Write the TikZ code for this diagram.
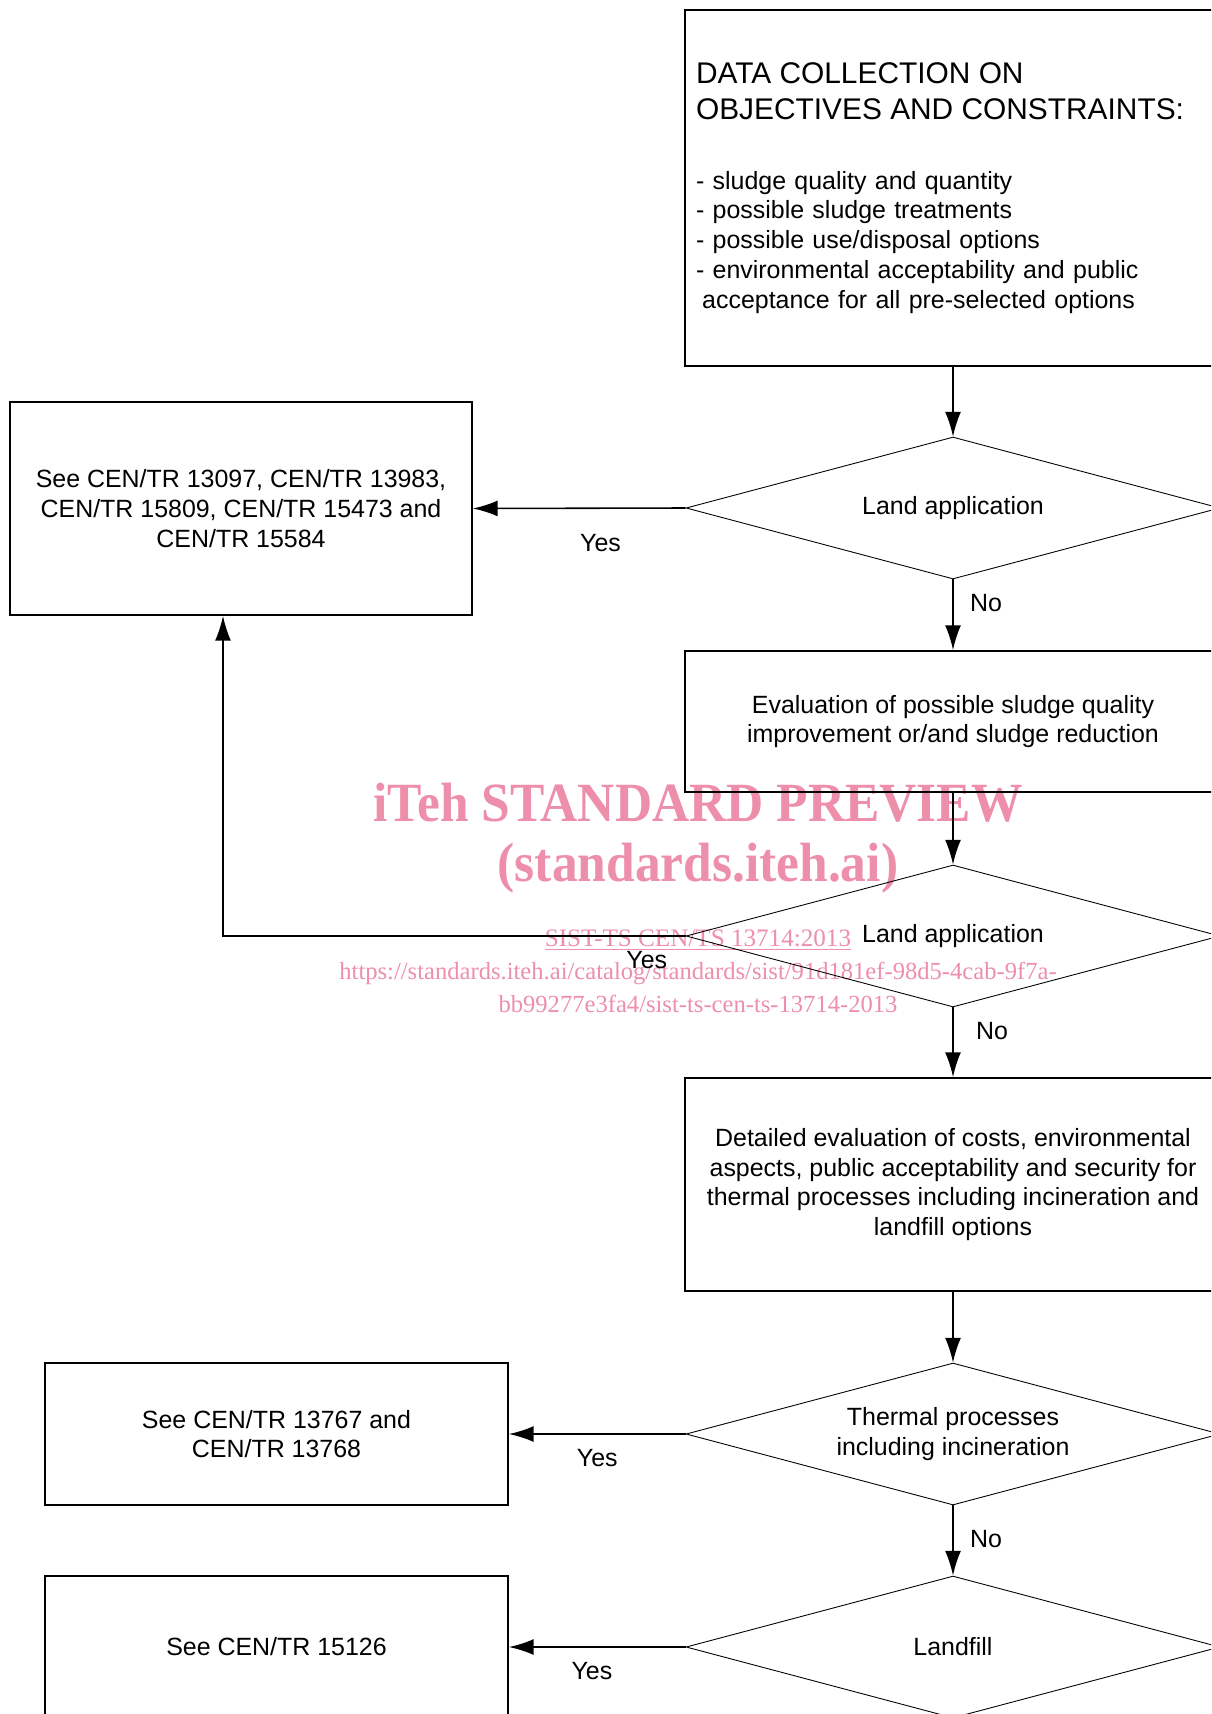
\documentclass[tikz,border=0pt]{standalone}
\usepackage{fontspec}
\setmainfont{Liberation Sans}
\newfontfamily\wmfont{Liberation Serif}
\usetikzlibrary{shapes.geometric,arrows.meta,positioning}
\definecolor{wmpink}{RGB}{237,142,170}
\newcommand\normtext{\fontsize{14.2}{17}\selectfont}
\newcommand\bigtext{\fontsize{17}{20.5}\selectfont}

\begin{document}
\begin{tikzpicture}[x=0.02cm,y=-0.02cm,
	>={Latex[length=14pt,width=9pt]},
	box/.style={draw, rectangle, line width=1.1pt, inner sep=0pt, align=center, font=\normtext},
	decision/.style={draw, diamond, line width=0.5pt, inner sep=0pt, aspect=3.76,
		minimum width=10.68cm, minimum height=2.84cm, align=center, font=\normtext},
	flow/.style={->, line width=0.9pt},
	lbl/.style={font=\normtext, inner sep=0pt},
	wm/.style={text=wmpink, inner sep=0pt, align=center}]
	\useasboundingbox (0,0) rectangle (1211,1714);
	\clip (0,0) rectangle (1211,1714);% the page cuts the right column
	
	% watermark, under the chart
	\node[wm, font=\wmfont\bfseries\fontsize{31.5}{36}\selectfont] (wmtitle) at (698,803) {\scalebox{0.93}[1]{iTeh STANDARD PREVIEW}};
	\node[wm, font=\wmfont\bfseries\fontsize{31.5}{36}\selectfont] (wmsite) at (698,868) {\scalebox{0.93}[1]{(standards.iteh.ai)}};
	\node[wm, font=\wmfont\fontsize{14.3}{16}\selectfont] (wmref) at (698,940) {\underline{SIST-TS CEN/TS 13714:2013}};
	\node[wm, font=\wmfont\fontsize{14}{16}\selectfont] (wmurl) at (698,973) {https://standards.iteh.ai/catalog/standards/sist/91d181ef-98d5-4cab-9f7a-};
	\node[wm, font=\wmfont\fontsize{14}{16}\selectfont] (wmurlb) at (698,1004) {bb99277e3fa4/sist-ts-cen-ts-13714-2013};
	
	% right column
	\node[box, align=left, minimum width=10.72cm, minimum height=7.12cm, text width=10.28cm] (collect) at (953,188)
		{{\bigtext DATA COLLECTION ON\\OBJECTIVES AND CONSTRAINTS:\par}
		\vspace{22.8pt}
		{\normtext - sludge quality and quantity\\
		- possible sludge treatments\\
		- possible use/disposal options\\
		- environmental acceptability and public\\
		\hspace*{3.5pt}acceptance for all pre-selected options\par}};
	\node[decision] (landA) at (953,508) {Land application};
	\node[box, minimum width=10.72cm, minimum height=2.82cm] (improve) at (953,721.5)
		{Evaluation of possible sludge quality\\improvement or/and sludge reduction};
	\node[decision] (landB) at (953,936) {Land application};
	\node[box, minimum width=10.72cm, minimum height=4.26cm] (detail) at (953,1184.5)
		{Detailed evaluation of costs, environmental\\aspects, public acceptability and security for\\thermal processes including incineration and\\landfill options};
	\node[decision] (thermal) at (953,1434) {Thermal processes\\including incineration};
	\node[decision] (landfill) at (953,1647) {Landfill};
	
	% left column
	\node[box, minimum width=9.24cm, minimum height=4.26cm] (seeland) at (241,508.5)
		{See CEN/TR 13097, CEN/TR 13983,\\CEN/TR 15809, CEN/TR 15473 and\\CEN/TR 15584};
	\node[box, minimum width=9.26cm, minimum height=2.84cm] (seethermal) at (276.5,1434)
		{See CEN/TR 13767 and\\CEN/TR 13768};
	\node[box, minimum width=9.26cm, minimum height=2.84cm] (seelandfill) at (276.5,1647)
		{See CEN/TR 15126};
	
	\coordinate (back) at (223,936);% return line turns up here
	
	\draw[flow] (collect) -- (landA);
	\draw[flow] (landA.west) -- (seeland.east) node[lbl, pos=0.4, yshift=-0.7cm] (yesA) {Yes};
	\draw[flow] (landA) -- (improve) node[lbl, pos=0.33, xshift=0.66cm] (noA) {No};
	\draw[flow] (improve) -- (landB);
	\draw[flow] (landB.west) -- (back) node[lbl, pos=0.084, yshift=-0.48cm] (yesB) {Yes} -- (back |- seeland.south);
	\draw[flow] (landB) -- (detail) node[lbl, pos=0.34, xshift=0.78cm] (noB) {No};
	\draw[flow] (detail) -- (thermal);
	\draw[flow] (thermal.west) -- (seethermal.east) node[lbl, pos=0.5, yshift=-0.48cm] (yesC) {Yes};
	\draw[flow] (thermal) -- (landfill) node[lbl, pos=0.48, xshift=0.66cm] (noC) {No};
	\draw[flow] (landfill.west) -- (seelandfill.east) node[lbl, pos=0.53, yshift=-0.48cm] (yesD) {Yes};
	
\end{tikzpicture}
\end{document}
